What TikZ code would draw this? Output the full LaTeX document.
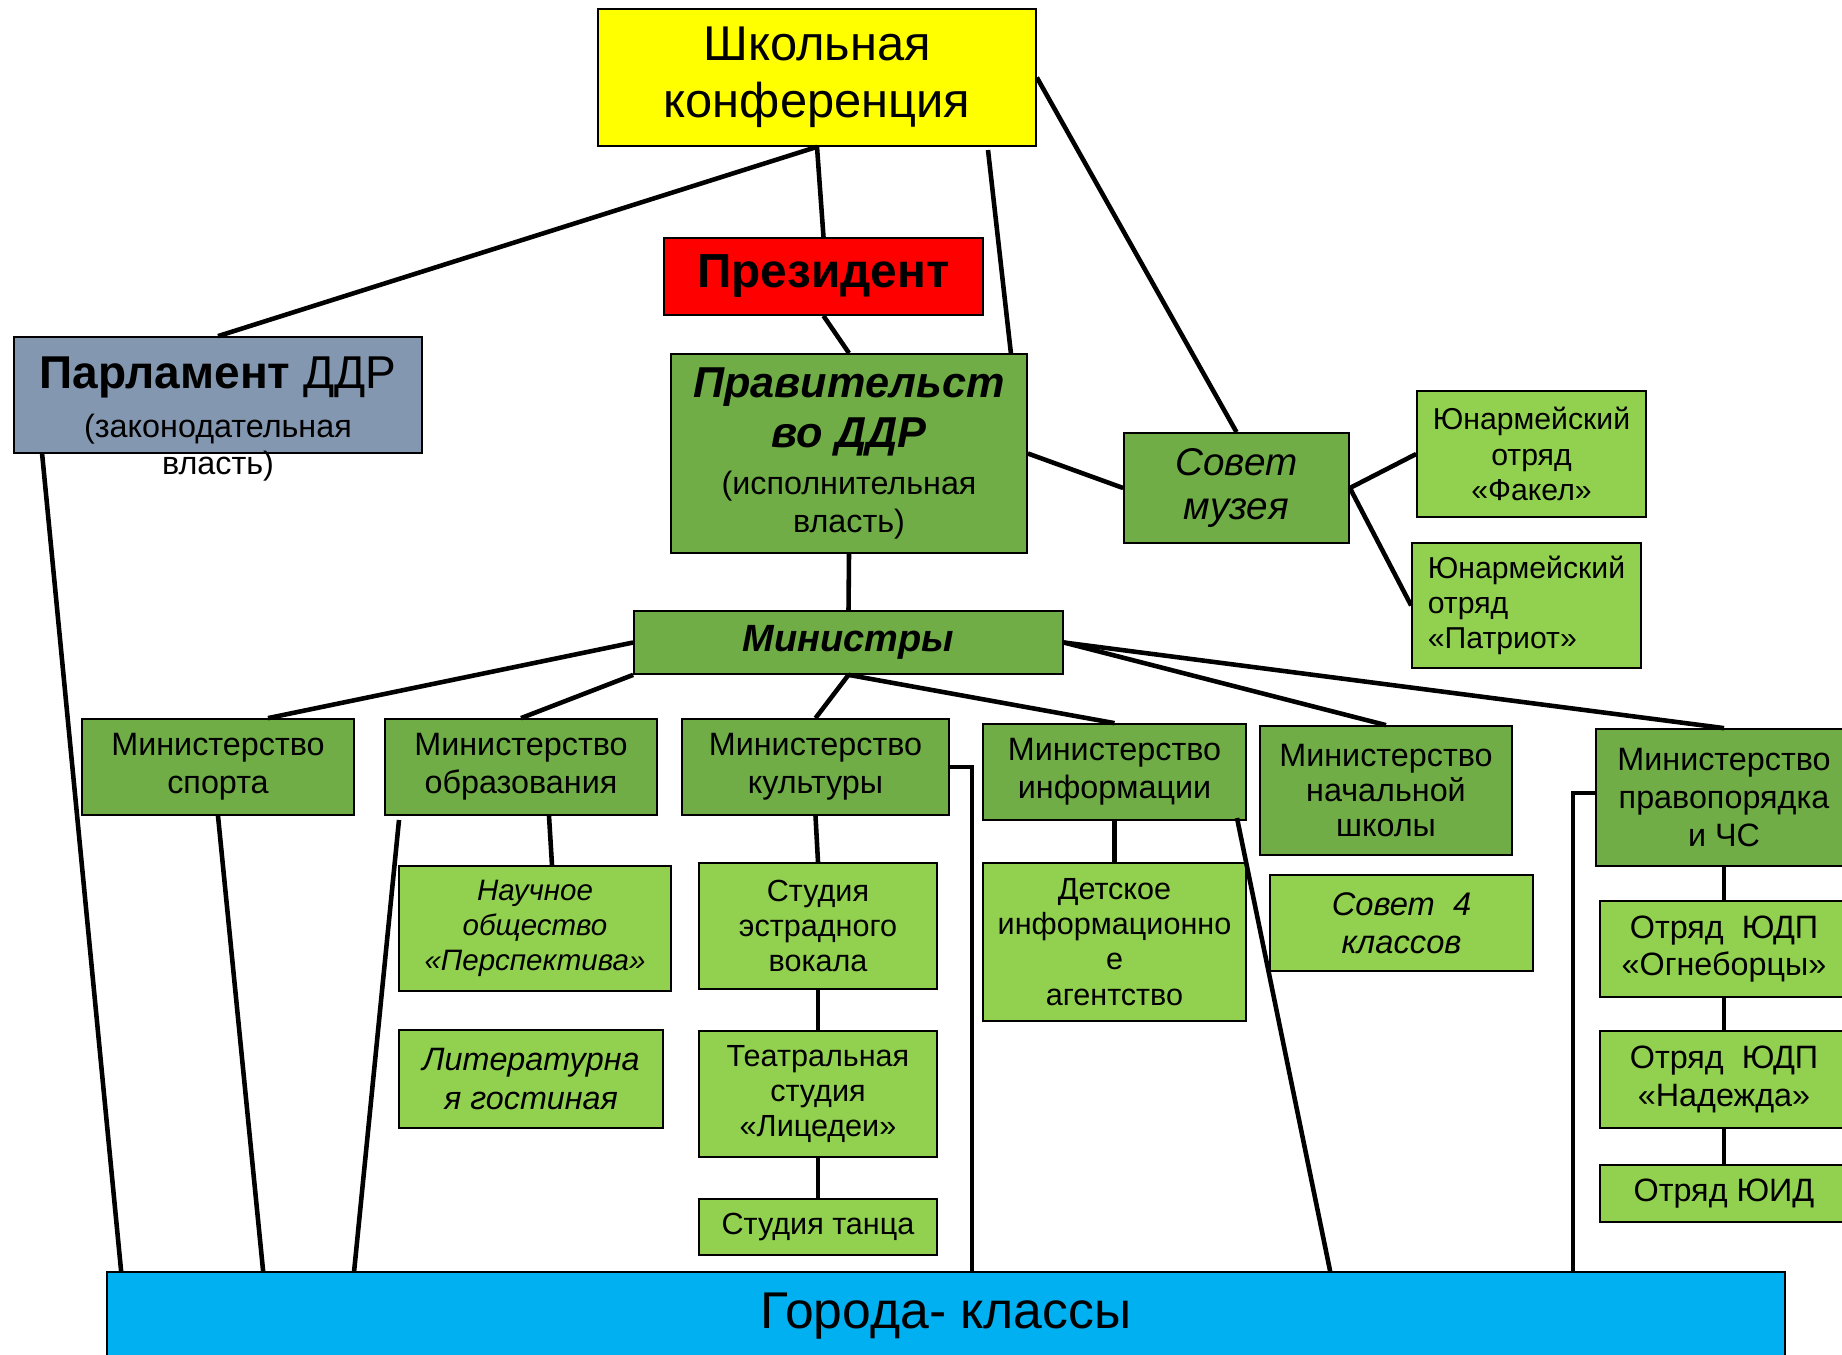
\documentclass[tikz,border=0pt]{standalone}
\usepackage{fontspec}
\setmainfont{Liberation Sans}
\usetikzlibrary{calc}

\definecolor{confyellow}{HTML}{FFFF00}
\definecolor{presred}{HTML}{FF0000}
\definecolor{parlgray}{HTML}{8497B0}
\definecolor{darkgreen}{HTML}{70AD47}
\definecolor{lightgreen}{HTML}{92D050}
\definecolor{cityblue}{HTML}{00B0F0}

\tikzset{
	box/.style={draw=black, line width=0.5pt, align=center, inner sep=1pt, font=\fontsize{9.2}{10.7}\selectfont},
	dark/.style={box, fill=darkgreen},
	light/.style={box, fill=lightgreen},
	link/.style={line width=1.3pt},
}

\begin{document}
\begin{tikzpicture}
					\useasboundingbox (0,0) rectangle (18.42,-13.54);
					\clip (0,0) rectangle (18.42,-13.54);

					% Top of the scheme
					\node[box, fill=confyellow, minimum width=4.38cm, minimum height=1.37cm, font=\fontsize{13.9}{16.3}\selectfont] (conf) at (8.17,-0.775) {\raisebox{-2pt}{Школьная}\\\raisebox{-2pt}{конференция}};
					\node[box, fill=presred, minimum width=3.19cm, minimum height=0.77cm, font=\fontsize{13.6}{15}\selectfont\bfseries] (pres) at (8.235,-2.765) {Президент};
					\node[box, fill=parlgray, minimum width=4.08cm, minimum height=1.16cm] (parl) at (2.18,-3.95) {};
					\node[anchor=north, align=center, inner sep=0pt, font=\fontsize{13.1}{13.9}\selectfont] (parltext) at ($(parl.north)+(0,-0.2)$) {\textbf{Парламент} ДДР\\{\fontsize{9.2}{10.7}\selectfont (законодательная}\\[-3.2pt]{\fontsize{9.2}{10.7}\selectfont власть)}};
					\node[dark, minimum width=3.56cm, minimum height=1.99cm, font=\fontsize{12.3}{14.3}\selectfont] (gov) at (8.49,-4.535) {\textbf{\textit{Правительст}}\\\textbf{\textit{во ДДР}}\\[-1pt]{\fontsize{9.2}{10.7}\selectfont (исполнительная}\\[-3.6pt]{\fontsize{9.2}{10.7}\selectfont власть)}};
					\node[dark, minimum width=2.25cm, minimum height=1.10cm, font=\fontsize{11}{12.7}\selectfont\itshape] (museum) at (12.365,-4.88) {Совет\\музея};
					\node[light, minimum width=2.29cm, minimum height=1.26cm, font=\fontsize{8.6}{10}\selectfont] (fakel) at (15.315,-4.54) {Юнармейский\\отряд\\«Факел»};
					\node[light, align=left, minimum width=2.29cm, minimum height=1.25cm, font=\fontsize{8.6}{10}\selectfont] (patriot) at (15.265,-6.055) {Юнармейский\\отряд\\«Патриот»};
					\node[dark, minimum width=4.29cm, minimum height=0.63cm, font=\fontsize{10.8}{13}\selectfont\bfseries\itshape] (minist) at (8.485,-6.425) {Министры};

					% Ministries
					\node[dark, minimum width=2.72cm, minimum height=0.96cm] (sport) at (2.18,-7.67) {Министерство\\спорта};
					\node[dark, minimum width=2.72cm, minimum height=0.96cm] (edu) at (5.21,-7.67) {Министерство\\образования};
					\node[dark, minimum width=2.67cm, minimum height=0.96cm] (cult) at (8.155,-7.67) {Министерство\\культуры};
					\node[dark, minimum width=2.63cm, minimum height=0.96cm] (info) at (11.145,-7.72) {Министерство\\информации};
					\node[dark, minimum width=2.52cm, minimum height=1.29cm, font=\fontsize{9.2}{10}\selectfont] (primary) at (13.86,-7.905) {Министерство\\начальной\\школы};
					\node[dark, minimum width=2.56cm, minimum height=1.37cm] (order) at (17.24,-7.975) {Министерство\\правопорядка\\и ЧС};

					% Clubs and squads
					\node[light, minimum width=2.72cm, minimum height=1.25cm, font=\fontsize{8.4}{10}\selectfont\itshape] (science) at (5.35,-9.285) {Научное\\общество\\«Перспектива»};
					\node[light, minimum width=2.64cm, minimum height=0.98cm, font=\fontsize{9.2}{11}\selectfont\itshape] (lit) at (5.31,-10.79) {Литературна\\я гостиная};
					\node[light, minimum width=2.38cm, minimum height=1.26cm, font=\fontsize{8.7}{10}\selectfont] (vocal) at (8.18,-9.26) {Студия\\эстрадного\\вокала};
					\node[light, minimum width=2.38cm, minimum height=1.26cm, font=\fontsize{8.7}{10}\selectfont] (theatre) at (8.18,-10.94) {Театральная\\студия\\«Лицедеи»};
					\node[light, minimum width=2.38cm, minimum height=0.56cm, font=\fontsize{8.7}{10}\selectfont] (dance) at (8.18,-12.27) {Студия танца};
					\node[light, minimum width=2.63cm, minimum height=1.58cm, font=\fontsize{8.7}{10}\selectfont] (agency) at (11.145,-9.42) {Детское\\информационно\\е\\агентство};
					\node[light, minimum width=2.63cm, minimum height=0.96cm, font=\fontsize{9.3}{10.7}\selectfont\itshape] (council) at (14.015,-9.23) {Совет~~4\\классов};
					\node[light, minimum width=2.48cm, minimum height=0.96cm] (fire) at (17.24,-9.49) {Отряд~~ЮДП\\«Огнеборцы»};
					\node[light, minimum width=2.48cm, minimum height=0.97cm] (hope) at (17.24,-10.795) {Отряд~~ЮДП\\«Надежда»};
					\node[light, minimum width=2.48cm, minimum height=0.57cm] (yuid) at (17.24,-11.935) {Отряд ЮИД};

					% Bottom
					\node[box, fill=cityblue, minimum width=16.78cm, minimum height=0.88cm, font=\fontsize{14.7}{16}\selectfont] (cities) at (9.46,-13.16) {Города- классы};

					% Bends and loose ends
					\coordinate (govend) at (9.88,-1.50);
					\coordinate (eduend) at (3.99,-8.20);
					\coordinate (infoend) at (12.37,-8.18);
					\coordinate (cultbend) at (9.72,-7.67);
					\coordinate (orderbend) at (15.73,-7.93);

					\draw[link] (conf.south) -- (parl.north);
					\draw[link] (conf.south) -- (pres.north);
					\draw[link] (pres.south) -- (gov.north);
					\draw[link] (govend) -- ($(gov.north east)+(-0.17,0)$);
					\draw[link] (conf.east) -- (museum.north);
					\draw[link] (gov.east) -- (museum.west);
					\draw[link] (museum.east) -- (fakel.west);
					\draw[link] (museum.east) -- (patriot.west);
					\draw[link] (gov.south) -- (minist.north);

					\draw[link] (minist.west) -- ($(sport.north)+(0.5,0)$);
					\draw[link] (minist.south west) -- (edu.north);
					\draw[link] (minist.south) -- (cult.north);
					\draw[link] (minist.south) -- (info.north);
					\draw[link] (minist.east) -- (primary.north);
					\draw[link] (minist.east) -- (order.north);

					\draw[link] ($(edu.south)+(0.28,0)$) -- ($(science.north)+(0.17,0)$);
					\draw[link] (cult.south) -- (vocal.north);
					\draw[link] (vocal.south) -- (theatre.north);
					\draw[link] (theatre.south) -- (dance.north);
					\draw[link] (info.south) -- (agency.north);
					\draw[link] (order.south) -- (fire.north);
					\draw[link] (fire.south) -- (hope.north);
					\draw[link] (hope.south) -- (yuid.north);

					% Lines down to the cities
					\draw[link] ($(parl.south west)+(0.29,0)$) -- ($(cities.north west)+(0.15,0)$);
					\draw[link] (sport.south) -- ($(cities.north west)+(1.57,0)$);
					\draw[link] (eduend) -- ($(cities.north west)+(2.48,0)$);
					\draw[link] (cult.east) -- (cultbend) -- (cultbend |- cities.north);
					\draw[link] (infoend) -- ($(cities.north west)+(12.24,0)$);
					\draw[link] (order.west |- orderbend) -- (orderbend) -- (orderbend |- cities.north);
\end{tikzpicture}
\end{document}
